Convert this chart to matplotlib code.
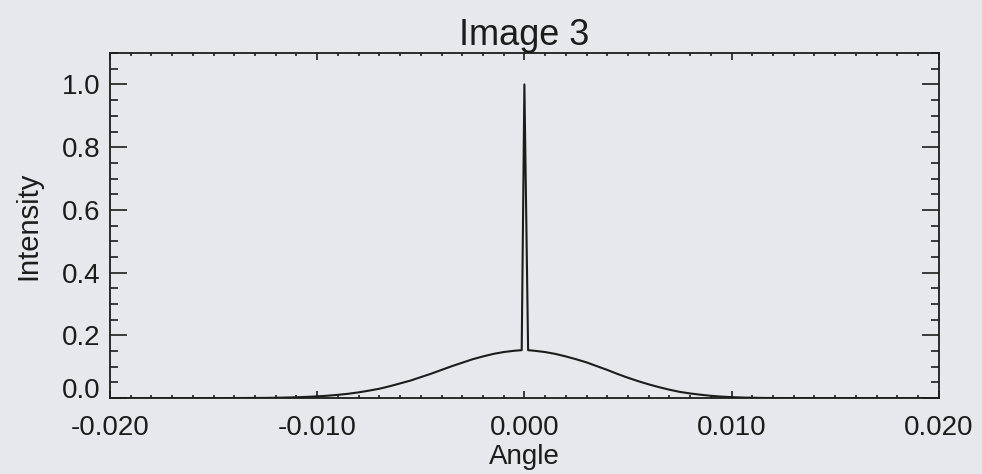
import numpy as np
import matplotlib.pyplot as plt
from matplotlib.ticker import MultipleLocator

# Values
angle_left = [-0.020, -0.015, -0.0125, -0.012, -0.0115, -0.011, -0.0105, -0.010,
              -0.0095, -0.009, -0.0085, -0.008, -0.0075, -0.007, -0.0065, -0.006,
              -0.0055, -0.005, -0.0045, -0.004, -0.0035, -0.003, -0.0025, -0.002,
              -0.0015, -0.001, -0.0005]
intens_left = [0.0, 0.0001, 0.0009, 0.0013, 0.0020, 0.0028, 0.0041, 0.0057,
               0.0078, 0.0106, 0.014, 0.0185, 0.024, 0.030, 0.038, 0.047,
               0.056, 0.067, 0.078, 0.090, 0.102, 0.113, 0.124, 0.133,
               0.141, 0.147, 0.151]

# narrow central spike
angle_spike = [-0.00013, 0.0, 0.00018]
intens_spike = [0.153, 1.0, 0.153]

angle_right = [0.0005, 0.001, 0.0015, 0.002, 0.0025, 0.003, 0.0035, 0.004,
               0.0045, 0.005, 0.0055, 0.006, 0.0065, 0.007, 0.0075, 0.008,
               0.0085, 0.009, 0.0095, 0.010, 0.0105, 0.011, 0.0115, 0.012,
               0.0125, 0.015, 0.020]
intens_right = [0.151, 0.147, 0.141, 0.133, 0.124, 0.114, 0.102, 0.090,
                0.077, 0.065, 0.054, 0.044, 0.035, 0.027, 0.020, 0.015,
                0.011, 0.0075, 0.0050, 0.0033, 0.0021, 0.0013, 0.0008, 0.0005,
                0.0003, 0.0001, 0.0]

angle = angle_left + angle_spike + angle_right
intensity = intens_left + intens_spike + intens_right

bg = "#e6e8eb"
ink = "#1c1c1c"

plt.rcParams["font.family"] = ["Liberation Sans", "DejaVu Sans"]

fig = plt.figure(figsize=(9.82, 4.74), dpi=100, facecolor=bg)
ax = fig.add_axes([0.112, 0.160, 0.844, 0.728])
ax.set_facecolor(bg)

ax.plot(angle, intensity, color=ink, lw=1.5)

ax.set_xlim(-0.020, 0.020)
ax.set_ylim(0.0, 1.1)
ax.set_xticks([-0.020, -0.010, 0.000, 0.010, 0.020])
ax.set_xticklabels(["-0.020", "-0.010", "0.000", "0.010", "0.020"])
ax.set_yticks([0.0, 0.2, 0.4, 0.6, 0.8, 1.0])
ax.set_yticklabels(["0.0", "0.2", "0.4", "0.6", "0.8", "1.0"])
ax.xaxis.set_minor_locator(MultipleLocator(0.001))
ax.yaxis.set_minor_locator(MultipleLocator(0.05))

for s in ax.spines.values():
    s.set_linewidth(1.3)
    s.set_color(ink)

ax.tick_params(axis="x", which="both", direction="in", top=True, colors=ink,
               labelsize=20, pad=12, width=1.2)
ax.tick_params(axis="x", which="major", length=5)
ax.tick_params(axis="x", which="minor", length=2)
ax.tick_params(axis="y", which="both", direction="in", right=True, colors=ink,
               labelsize=20, pad=7, width=1.2)
ax.tick_params(axis="y", which="major", length=12)
ax.tick_params(axis="y", which="minor", length=6)

# bottom y label sits on the axis like in the original
ax.get_yticklabels()[0].set_verticalalignment("baseline")

ax.set_title("Image 3", fontsize=26, color=ink, pad=5)
ax.set_xlabel("Angle", fontsize=20, color=ink, labelpad=2)
ax.set_ylabel("Intensity", fontsize=21, color=ink, labelpad=14)

fig.savefig("out.png", dpi=100, facecolor=bg)
